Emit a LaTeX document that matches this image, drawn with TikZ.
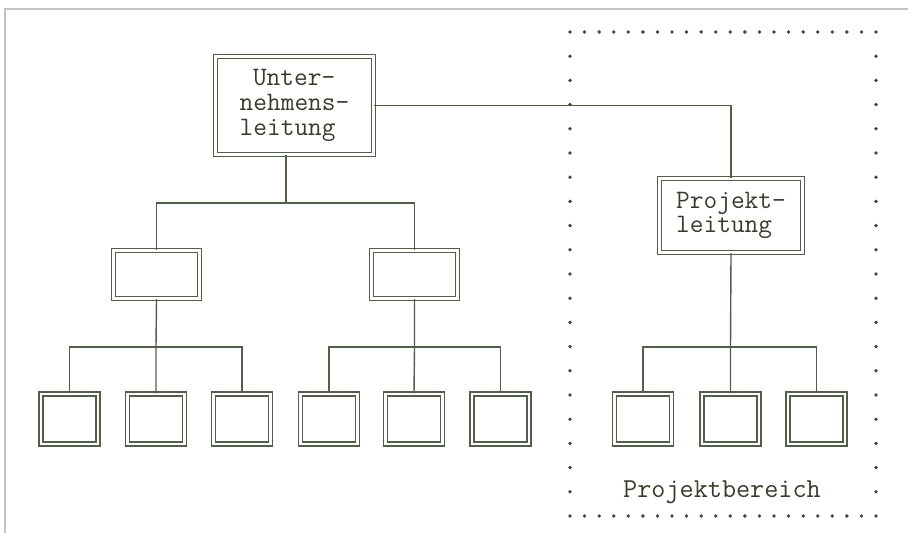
\documentclass[tikz,border=0pt]{standalone}
\usepackage{fontspec}
\usetikzlibrary{positioning}
\definecolor{LineGreen}{RGB}{82,94,72}
\definecolor{TextGreen}{RGB}{55,60,44}
\definecolor{FrameGray}{RGB}{195,195,195}
\definecolor{DotGray}{RGB}{70,70,70}

\begin{document}
\begin{tikzpicture}[x=0.5pt, y=-0.5pt,
    orgbox/.style={draw=LineGreen, line width=0.7pt, double=white, double distance=1.3pt,
      inner sep=0pt, align=left, text=TextGreen, font=\ttfamily\fontsize{13.3}{12.4}\selectfont},
    link/.style={draw=LineGreen, line width=0.7pt}]
    \useasboundingbox (0,0) rectangle (908,533);

    % Frame
    \draw[FrameGray, line width=1pt] (5,533) -- (5,9) -- (908,9);

    % Projektbereich (dotted border)
    \foreach \i in {0,...,21} {
      \fill[DotGray] (570+\i*14.571,32) circle (1.9);
      \fill[DotGray] (570+\i*14.571,516) circle (1.9);
    }
    \foreach \j in {1,...,19} {
      \fill[DotGray] (570,32+\j*24.2) circle (1.9);
      \fill[DotGray] (876,32+\j*24.2) circle (1.9);
    }
    \node[text=TextGreen, font=\ttfamily\fontsize{13.7}{12}\selectfont] (bereich) at (722,492) {Projektbereich};

    % Boxes
    \node[orgbox, minimum width=78.9pt, minimum height=48.9pt] (U) at (294.5,105.5) {\hspace*{0.5em}Unter-\\nehmens-\\leitung};
    \node[orgbox, minimum width=71.4pt, minimum height=36.9pt] (P) at (731,215.5) {Projekt-\\leitung};
    \node[orgbox, minimum width=42.9pt, minimum height=23.9pt] (m1) at (156.5,274.5) {};
    \node[orgbox, minimum width=42.9pt, minimum height=23.9pt] (m2) at (414.5,274.5) {};
    \foreach \x [count=\k] in {69.5,156,242,329,414,500.5,643,730.5,816.5}
      \node[orgbox, minimum width=28.4pt, minimum height=24.9pt] (b\k) at (\x,419) {};

    % Junctions
    \coordinate (j0) at (286,203);
    \coordinate (j1) at (156,347);
    \coordinate (j2) at (414.5,347);
    \coordinate (j3) at (730.5,347);

    % Connectors
    \draw[link] (U.east) -| (P.north);
    \draw[link] (U.south -| j0) -- (j0);
    \draw[link] (m1.north) |- (j0) -| (m2.north);
    \draw[link] (m1.south) -- (j1) -- (b2.north);
    \draw[link] (b1.north) |- (j1) -| (b3.north);
    \draw[link] (m2.south) -- (j2) -- (b5.north);
    \draw[link] (b4.north) |- (j2) -| (b6.north);
    \draw[link] (P.south) -- (j3) -- (b8.north);
    \draw[link] (b7.north) |- (j3) -| (b9.north);
\end{tikzpicture}
\end{document}
